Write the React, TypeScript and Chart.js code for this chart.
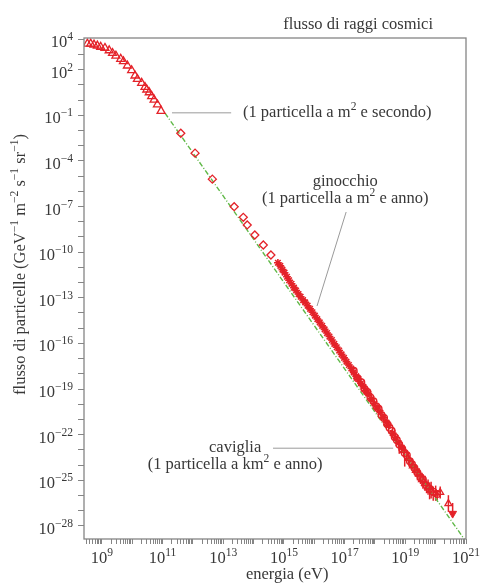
import { useEffect, useRef } from 'react';
import { Chart, registerables } from 'chart.js';

Chart.register(...registerables);

// ---------- axes (log10 units) ----------
const X_LOG_MIN = 8.41;
const X_LOG_MAX = 21;
const Y_LOG_MIN = -28.86;
const Y_LOG_MAX = 4.08;
const X_LABEL_EXP = [9, 11, 13, 15, 17, 19, 21];
const Y_LABEL_EXP = [4, 2, -1, -4, -7, -10, -13, -16, -19, -22, -25, -28];

const TITLE = 'flusso di raggi cosmici';
const X_TITLE = 'energia (eV)';
const Y_TITLE = 'flusso di particelle (GeV{−1} m{−2} s{−1} sr{−1})';

// ---------- data (log10 of energy in eV, log10 of flux) ----------
const TRI_LOG_E = [8.52, 8.63, 8.74, 8.85, 8.96, 9.10, 9.24, 9.35, 9.46, 9.62, 9.71, 9.84, 9.98, 10.09, 10.17, 10.31, 10.42, 10.48, 10.56, 10.64, 10.72, 10.83, 10.95];
const TRI_LOG_F = [3.70, 3.70, 3.64, 3.57, 3.49, 3.42, 3.26, 3.09, 2.91, 2.70, 2.54, 2.26, 1.95, 1.60, 1.38, 1.12, 0.85, 0.68, 0.50, 0.25, 0.02, -0.30, -0.72];

const DIA_LOG_E = [11.60, 12.07, 12.64, 13.36, 13.66, 13.79, 14.04, 14.32, 14.57];
const DIA_LOG_F = [-2.18, -3.49, -5.20, -7.01, -7.71, -8.21, -8.87, -9.53, -10.19];

const STAR_LOG_E = [14.80, 14.88, 14.95, 15.02, 15.10, 15.17, 15.25, 15.33, 15.40, 15.48, 15.55, 15.63, 15.70, 15.78, 15.86, 15.94, 16.02, 16.10, 16.18, 16.26, 16.34, 16.42, 16.50, 16.58, 16.66, 16.74, 16.82, 16.90, 16.98, 17.06, 17.14, 17.22, 17.30, 17.38, 17.46, 17.54, 17.62, 17.70, 17.78, 17.88, 17.98, 18.08, 18.18, 18.28, 18.38, 18.45, 18.58, 18.68, 18.78, 18.88];
const STAR_LOG_F = [-10.70, -10.90, -11.15, -11.35, -11.62, -11.85, -12.08, -12.33, -12.52, -12.75, -12.93, -13.15, -13.30, -13.52, -13.73, -13.95, -14.17, -14.40, -14.62, -14.85, -15.08, -15.32, -15.55, -15.78, -16.03, -16.25, -16.47, -16.72, -16.95, -17.20, -17.42, -17.65, -17.90, -18.15, -18.35, -18.62, -18.85, -19.10, -19.30, -19.65, -19.95, -20.25, -20.55, -20.88, -21.20, -21.40, -21.90, -22.20, -22.55, -22.85];

const CIRC_LOG_E = [17.30, 17.42, 17.55, 17.65, 17.75, 17.85, 17.95, 18.05, 18.12, 18.22, 18.30, 18.40, 18.48, 18.55, 18.65, 18.72, 18.80, 18.90, 18.98, 19.05, 19.15, 19.22, 19.30, 19.40, 19.50, 19.58, 19.70, 19.80, 19.92, 20.05];
const CIRC_LOG_F = [-17.80, -18.28, -18.55, -18.98, -19.20, -19.55, -19.80, -20.15, -20.30, -20.72, -20.90, -21.30, -21.55, -21.75, -22.15, -22.35, -22.65, -22.95, -23.20, -23.35, -23.75, -23.95, -24.20, -24.50, -24.80, -24.95, -25.35, -25.55, -25.75, -25.90];
const CIRC_ERR_LO = [0, 0, 0, 0, 0, 0, 0, 0, 0, 0, 0, 0, 0, 0, 0.15, 0.2, 0.6, 0.25, 0.9, 0.3, 0.35, 0.3, 0.4, 0.5, 0.45, 0.6, 0.5, 0.7, 0.6, 0.4];
const CIRC_ERR_HI = [0, 0, 0, 0, 0, 0, 0, 0, 0, 0, 0, 0, 0, 0, 0.1, 0.1, 0.3, 0.15, 0.3, 0.2, 0.2, 0.2, 0.25, 0.3, 0.3, 0.35, 0.3, 0.4, 0.35, 0.25];

const HTRI_LOG_E = [18.95, 19.10, 19.25, 19.35, 19.45, 19.55, 19.65, 19.75, 19.85, 20.00, 20.15, 20.42];
const HTRI_LOG_F = [-23.05, -23.55, -24.05, -24.35, -24.60, -24.95, -25.20, -25.45, -25.65, -25.85, -25.80, -26.53];
const HTRI_ERR = [0.3, 0.35, 0.3, 0.4, 0.4, 0.45, 0.5, 0.5, 0.55, 0.5, 0.4, 0.55];

const LIMIT_LOG_E = [20.56];
const LIMIT_LOG_F = [-27.19];
const LIMIT_ERR_LO = [0.2];
const LIMIT_ERR_HI = [0.7];

const FIT_LOG_E = [11.08, 20.95];
const FIT_LOG_F = [-0.86, -28.89];

// ---------- annotations (data coordinates, log10) ----------
const ANN_TEXT = [
  '(1 particella a m{2} e secondo)',
  'ginocchio',
  '(1 particella a m{2} e anno)',
  'caviglia',
  '(1 particella a km{2} e anno)',
];
const ANN_LOG_E = [13.65, 17.02, 17.02, 13.39, 13.39];
const ANN_LOG_F = [-1.10, -5.64, -6.76, -23.16, -24.28];
const ANN_ALIGN = ['left', 'center', 'center', 'center', 'center'];

const LEAD_LOG_E1 = [11.31, 17.05, 14.64];
const LEAD_LOG_F1 = [-0.84, -7.36, -22.89];
const LEAD_LOG_E2 = [13.26, 16.09, 18.60];
const LEAD_LOG_F2 = [-0.84, -13.54, -22.89];

// ---------- styles ----------
const RED = '#e42229';
const GREEN = '#5fb847';
const AXIS_GRAY = '#858585';
const LEAD_GRAY = '#9a9a9a';
const TEXT = '#383838';
const FONT_FAMILY = '"Liberation Serif", "DejaVu Serif", serif';
const FONT_SIZE = 16.5;

const pts = (es: number[], fs: number[], lo?: number[], hi?: number[]) =>
  es.map((e, i) => {
    const p: any = { x: Math.pow(10, e), y: Math.pow(10, fs[i]) };
    const l = lo ? lo[i] : 0;
    const h = hi ? hi[i] : 0;
    if (l > 0 || h > 0) {
      p.lo = Math.pow(10, fs[i] - l);
      p.hi = Math.pow(10, fs[i] + h);
    }
    return p;
  });

const X_TICKS: number[] = [];
for (let n = 8; n <= 21; n++) {
  for (let k = 1; k <= 9; k++) {
    const v = k * Math.pow(10, n);
    if (v >= Math.pow(10, X_LOG_MIN) && v <= Math.pow(10, X_LOG_MAX) * 1.000001) X_TICKS.push(v);
  }
}
const Y_TICKS: number[] = [];
for (let n = -28; n <= 4; n++) Y_TICKS.push(Math.pow(10, n));

function parseRich(s: string): [string, boolean][] {
  const out: [string, boolean][] = [];
  s.split(/(\{[^}]*\})/).forEach((p) => {
    if (!p) return;
    if (p[0] === '{') out.push([p.slice(1, -1), true]);
    else out.push([p, false]);
  });
  return out;
}

function drawRich(ctx: CanvasRenderingContext2D, text: string, x: number, y: number, align: string, size = FONT_SIZE) {
  const parts = parseRich(text);
  const supSize = size * 0.7;
  const rise = size * 0.42;
  const fonts = parts.map(([, s]) => `${s ? supSize : size}px ${FONT_FAMILY}`);
  const widths = parts.map(([t], i) => {
    ctx.font = fonts[i];
    return ctx.measureText(t).width;
  });
  const total = widths.reduce((a, b) => a + b, 0);
  let cx = align === 'left' ? x : align === 'center' ? x - total / 2 : x - total;
  ctx.textAlign = 'left';
  ctx.textBaseline = 'alphabetic';
  parts.forEach(([t, s], i) => {
    ctx.font = fonts[i];
    ctx.fillText(t, cx, s ? y - rise : y);
    cx += widths[i];
  });
}

const expLabel = (e: number) => `10{${e < 0 ? '−' + -e : e}}`;

const decor = {
  id: 'decor',
  beforeDatasetsDraw(chart: any) {
    const { ctx, chartArea: a, scales } = chart;
    const xs = scales.x;
    const ys = scales.y;
    ctx.save();
    ctx.beginPath();
    ctx.rect(a.left, a.top, a.right - a.left, a.bottom - a.top);
    ctx.clip();
    ctx.strokeStyle = RED;
    ctx.lineWidth = 1.5;
    chart.data.datasets.forEach((ds: any) => {
      ds.data.forEach((p: any) => {
        if (p.lo === undefined) return;
        const px = xs.getPixelForValue(p.x);
        ctx.beginPath();
        ctx.moveTo(px, ys.getPixelForValue(p.lo));
        ctx.lineTo(px, ys.getPixelForValue(p.hi));
        ctx.stroke();
      });
    });
    ctx.restore();
  },
  afterDraw(chart: any) {
    const { ctx, chartArea: a, scales } = chart;
    const xs = scales.x;
    const ys = scales.y;
    ctx.save();
    // frame
    ctx.strokeStyle = AXIS_GRAY;
    ctx.lineWidth = 1.3;
    ctx.strokeRect(a.left, a.top, a.right - a.left, a.bottom - a.top);

    ctx.fillStyle = TEXT;
    // tick labels
    Y_LABEL_EXP.forEach((e) => {
      const py = ys.getPixelForValue(Math.pow(10, e));
      drawRich(ctx, expLabel(e), a.left - 11, py + 8, 'right', 16.5);
    });
    X_LABEL_EXP.forEach((e) => {
      const px = xs.getPixelForValue(Math.pow(10, e));
      drawRich(ctx, expLabel(e), px, a.bottom + 24, 'center', 16.5);
    });

    // titles
    drawRich(ctx, TITLE, a.right - 33, a.top - 9, 'right');
    drawRich(ctx, X_TITLE, a.left + (a.right - a.left) * 0.532, a.bottom + 40, 'center');
    ctx.save();
    ctx.translate(20, (a.top + a.bottom) / 2 - 24);
    ctx.rotate(-Math.PI / 2);
    drawRich(ctx, Y_TITLE, 0, 5, 'center');
    ctx.restore();

    // leader lines
    ctx.strokeStyle = LEAD_GRAY;
    ctx.lineWidth = 1;
    LEAD_LOG_E1.forEach((e1, i) => {
      ctx.beginPath();
      ctx.moveTo(xs.getPixelForValue(Math.pow(10, e1)), ys.getPixelForValue(Math.pow(10, LEAD_LOG_F1[i])));
      ctx.lineTo(xs.getPixelForValue(Math.pow(10, LEAD_LOG_E2[i])), ys.getPixelForValue(Math.pow(10, LEAD_LOG_F2[i])));
      ctx.stroke();
    });
    // annotation texts
    ANN_TEXT.forEach((t, i) => {
      drawRich(
        ctx,
        t,
        xs.getPixelForValue(Math.pow(10, ANN_LOG_E[i])),
        ys.getPixelForValue(Math.pow(10, ANN_LOG_F[i])),
        ANN_ALIGN[i],
      );
    });
    ctx.restore();
  },
};

export default function App() {
  const ref = useRef<HTMLCanvasElement>(null);
  useEffect(() => {
    const canvas = ref.current;
    if (!canvas) return;
    const open = 'rgba(255,255,255,0)';
    const chart = new Chart(canvas, {
      type: 'scatter',
      data: {
        datasets: [
          {
            data: pts(LIMIT_LOG_E, LIMIT_LOG_F, LIMIT_ERR_LO, LIMIT_ERR_HI),
            pointStyle: 'triangle',
            rotation: 180,
            radius: 4.5,
            borderColor: RED,
            backgroundColor: RED,
            borderWidth: 1,
          },
          {
            data: pts(HTRI_LOG_E, HTRI_LOG_F, HTRI_ERR, HTRI_ERR),
            pointStyle: 'triangle',
            radius: 4,
            borderColor: RED,
            backgroundColor: open,
            borderWidth: 1.3,
          },
          {
            data: pts(CIRC_LOG_E, CIRC_LOG_F, CIRC_ERR_LO, CIRC_ERR_HI),
            pointStyle: 'circle',
            radius: 3.3,
            borderColor: RED,
            backgroundColor: open,
            borderWidth: 1.4,
          },
          {
            data: pts(STAR_LOG_E, STAR_LOG_F),
            pointStyle: 'star',
            radius: 3.9,
            borderColor: RED,
            backgroundColor: RED,
            borderWidth: 1.6,
          },
          {
            data: pts(DIA_LOG_E, DIA_LOG_F),
            pointStyle: 'rectRot',
            radius: 4,
            borderColor: RED,
            backgroundColor: open,
            borderWidth: 1.3,
          },
          {
            data: pts(TRI_LOG_E, TRI_LOG_F),
            pointStyle: 'triangle',
            radius: 4.6,
            borderColor: RED,
            backgroundColor: open,
            borderWidth: 1.3,
          },
          {
            data: pts(FIT_LOG_E, FIT_LOG_F),
            showLine: true,
            radius: 0,
            borderColor: GREEN,
            borderWidth: 1.4,
            borderDash: [5, 2, 1, 2],
          },
        ] as any,
      },
      options: {
        animation: false,
        responsive: true,
        maintainAspectRatio: false,
        events: [],
        layout: { padding: { top: 38, right: 17, bottom: 0, left: 0 } },
        plugins: { legend: { display: false }, tooltip: { enabled: false } },
        scales: {
          x: {
            type: 'logarithmic',
            position: 'bottom',
            bounds: 'data',
            min: Math.pow(10, X_LOG_MIN),
            max: Math.pow(10, X_LOG_MAX),
            afterBuildTicks: (s: any) => {
              s.ticks = X_TICKS.map((v) => ({ value: v }));
            },
            afterFit: (s: any) => {
              s.height = 44;
            },
            ticks: { display: false, autoSkip: false },
            grid: { drawOnChartArea: false, drawTicks: true, tickLength: 5, color: AXIS_GRAY, lineWidth: 1 },
            border: { display: false },
          },
          y: {
            type: 'logarithmic',
            position: 'left',
            bounds: 'data',
            min: Math.pow(10, Y_LOG_MIN),
            max: Math.pow(10, Y_LOG_MAX),
            afterBuildTicks: (s: any) => {
              s.ticks = Y_TICKS.map((v) => ({ value: v }));
            },
            afterFit: (s: any) => {
              s.width = 84;
            },
            ticks: { display: false, autoSkip: false },
            grid: { drawOnChartArea: false, drawTicks: true, tickLength: 6, color: AXIS_GRAY, lineWidth: 1 },
            border: { display: false },
          },
        },
      } as any,
      plugins: [decor],
    });
    return () => chart.destroy();
  }, []);
  return (
    <div style={{ position: 'fixed', left: 0, top: 0, width: 483, height: 583, background: '#fff' }}>
      <canvas ref={ref} />
    </div>
  );
}
